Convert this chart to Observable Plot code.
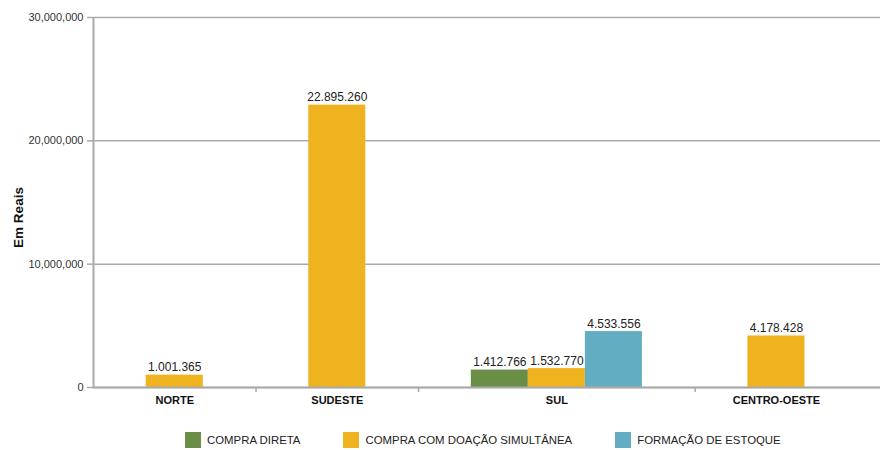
<!DOCTYPE html>
<html><head><meta charset="utf-8">
<script src="https://cdn.jsdelivr.net/npm/d3@7"></script>
<script src="https://cdn.jsdelivr.net/npm/@observablehq/plot@0.6"></script>
<style>
body{margin:0;background:#fff;font-family:"Liberation Sans",Arial,sans-serif;}
#legend{display:flex;align-items:center;margin-left:185px;margin-top:12px;font-size:11.4px;color:#222;height:16px;}
.item{display:flex;align-items:center;margin-right:43px}
.sw{width:16px;height:16px;margin-right:6px}
</style></head><body><div id="chart"></div><div id="legend"></div>
<script>
const categories = ["NORTE", "SUDESTE", "SUL", "CENTRO-OESTE"];
const series = ["COMPRA DIRETA", "COMPRA COM DOAÇÃO SIMULTÂNEA", "FORMAÇÃO DE ESTOQUE"];
const compraDireta = [null, null, 1412766, null];
const compraComDoacao = [1001365, 22895260, 1532770, 4178428];
const formacaoEstoque = [null, null, 4533556, null];
const yTicks = [0, 10000000, 20000000, 30000000];
const colors = ["#6b8e47", "#efb320", "#62adc2"];

const values = [compraDireta, compraComDoacao, formacaoEstoque];
const gapUnits = 1.85;
let pos = 0;
const rows = [], centers = [], bounds = [];
categories.forEach((c, i) => {
  const present = series.map((s, j) => ({s, v: values[j][i]})).filter(d => d.v != null);
  const start = pos;
  const band = present.length + gapUnits;
  let x = start + gapUnits / 2;
  present.forEach(d => { rows.push({category: c, series: d.s, value: d.v, x1: x, x2: x + 1}); x += 1; });
  centers.push(start + band / 2);
  pos += band;
  if (i < categories.length - 1) bounds.push(pos);
});
const xMax = pos + 0.4;
const fmt = v => d3.format(",")(v).replace(/,/g, ".");

const chart = Plot.plot({
  width: 884, height: 420,
  marginLeft: 93, marginRight: 4, marginTop: 17, marginBottom: 33,
  style: {fontFamily: "Liberation Sans, Arial, sans-serif", fontSize: "11px", color: "#333", background: "#fff"},
  x: {domain: [0, xMax], axis: null},
  y: {domain: [0, 30000000], axis: null},
  color: {domain: series, range: colors},
  marks: [
    Plot.gridY(yTicks, {stroke: "#aaa", strokeOpacity: 1, strokeWidth: 1.5}),
    Plot.axisY(yTicks, {tickSize: 6, tickPadding: 4, tickFormat: d3.format(","), stroke: "#aaa", strokeWidth: 1.5, fill: "#333", label: null}),
    Plot.ruleX([0], {stroke: "#aaa", strokeWidth: 2}),
    Plot.rectY(rows, {x1: "x1", x2: "x2", y1: 0, y2: "value", fill: "series"}),
    Plot.ruleY([0], {stroke: "#aaa", strokeWidth: 2}),
    Plot.axisX(bounds, {tickSize: 5, tickFormat: () => "", stroke: "#aaa", strokeWidth: 1.5, label: null}),
    Plot.axisX(centers, {tickSize: 0, tickPadding: 9, tickFormat: d => categories[centers.indexOf(d)], fontWeight: "bold", fill: "#111", label: null}),
    Plot.text(rows, {x: d => (d.x1 + d.x2) / 2, y: "value", text: d => fmt(d.value), lineAnchor: "bottom", dy: -4, fontSize: 12, fill: "#222"}),
    Plot.text(["Em Reais"], {frameAnchor: "left", textAnchor: "middle", rotate: -90, dx: -75, dy: 15, fontWeight: "bold", fontSize: 13.5, fill: "#111"})
  ]
});
document.getElementById("chart").appendChild(chart);

const legend = document.getElementById("legend");
series.forEach((s, i) => {
  const it = document.createElement("div");
  it.className = "item";
  const sw = document.createElement("div");
  sw.className = "sw";
  sw.style.background = colors[i];
  const t = document.createElement("span");
  t.textContent = s;
  it.appendChild(sw); it.appendChild(t);
  legend.appendChild(it);
});
</script></body></html>
